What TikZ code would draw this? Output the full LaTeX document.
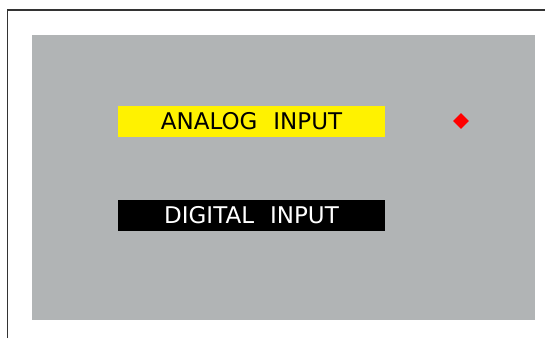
\documentclass[tikz,border=0pt]{standalone}
\usepackage{fontspec}
\setmainfont{DejaVu Sans}
\usetikzlibrary{shapes.geometric}
\begin{document}
\begin{tikzpicture}[x=1pt,y=-1pt,
  inbox/.style={minimum width=267pt,minimum height=31pt,inner sep=0pt,font=\fontsize{23}{23}\selectfont},
  led/.style={diamond,fill=red,minimum size=16pt,inner sep=0pt}]
\definecolor{panel}{HTML}{B1B4B5}
\definecolor{lamp}{HTML}{FFF200}
\definecolor{frame}{HTML}{333333}
\useasboundingbox (0,0) rectangle (545,338);
\draw[frame,line width=1.3pt] (7.5,338) |- (545,10);
\fill[panel] (32,35) rectangle (535,320);
\node[inbox,fill=lamp] (analog) at (251.5,121) {ANALOG\hspace{16pt}INPUT};
\node[inbox,fill=black,text=white] (digital) at (251.5,215) {DIGITAL\hspace{16pt}INPUT};
\node[led] (indicator) at (461,121) {};
\end{tikzpicture}
\end{document}
